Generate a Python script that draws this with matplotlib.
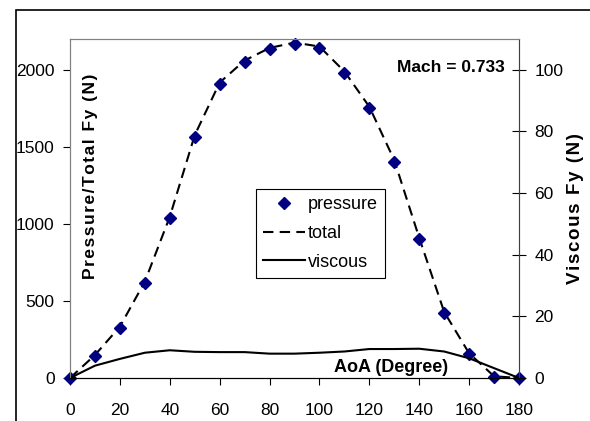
import matplotlib
matplotlib.use('Agg')
import matplotlib.pyplot as plt
from matplotlib.patches import Rectangle

plt.rcParams['font.family'] = ['Liberation Sans', 'DejaVu Sans']

aoa = [0, 10, 20, 30, 40, 50, 60, 70, 80, 90, 100, 110, 120, 130, 140, 150, 160, 170, 180]
pressure = [0, 145, 327, 617, 1037, 1567, 1909, 2052, 2134, 2169, 2143, 1981, 1751, 1404, 900, 420, 154, 8, 0]
viscous = [0, 4.0, 6.2, 8.2, 9.0, 8.5, 8.4, 8.4, 7.9, 7.9, 8.2, 8.6, 9.4, 9.4, 9.5, 8.6, 6.4, 3.2, 0]
total = [p + v for p, v in zip(pressure, viscous)]


def spaced(s):
    # the original axis titles have wide letter spacing
    return '\u200a'.join(s)


fig = plt.figure(figsize=(5.9, 4.21), dpi=100)

# outer chart frame (only left/top visible in the original)
fig.patches.append(Rectangle((16/590, -0.2), 1.2, 1 - 10/421 + 0.2, transform=fig.transFigure,
                             fill=False, edgecolor='black', linewidth=1.2, zorder=0))

ax = fig.add_axes([70/590, 1 - 378/421, 449/590, 339/421])
ax2 = ax.twinx()

l_tot, = ax.plot(aoa, total, color='black', linewidth=1.5, dashes=(5, 3), label='total')
l_pr, = ax.plot(aoa, pressure, linestyle='none', marker='D', markersize=6,
                color='#000080', label='pressure', clip_on=False, zorder=5)
l_vis, = ax2.plot(aoa, viscous, color='black', linewidth=1.5, label='viscous', clip_on=False)

ax.set_xlim(0, 180)
ax.set_ylim(0, 2200)
ax2.set_ylim(0, 110)
ax.set_xticks(range(0, 181, 20))
ax.set_yticks([0, 500, 1000, 1500, 2000])
ax2.set_yticks([0, 20, 40, 60, 80, 100])

for a in (ax, ax2):
    for s in ('top', 'left', 'right'):
        a.spines[s].set_color('#808080')
    a.spines['bottom'].set_color('black')
ax2.spines['right'].set_color('#404040')

ax.tick_params(axis='x', direction='out', length=5, pad=13, labelsize=12.5)
ax.tick_params(axis='y', direction='out', length=5, pad=6, labelsize=12.5)
ax2.tick_params(axis='y', direction='inout', length=10, pad=6, labelsize=12.5)

fig.text(90/590, 1 - 176/421, spaced('Pressure/Total Fy (N)'), rotation=90, fontsize=12.5,
         fontweight='bold', ha='center', va='center')
fig.text(575/590, 1 - 209/421, spaced('Viscous Fy (N)'), rotation=90, fontsize=13.5,
         fontweight='bold', ha='center', va='center')
fig.text(391/590, 1 - 368/421, 'AoA (Degree)', fontsize=13, fontweight='bold',
         ha='center', va='center')
fig.text(505/590, 1 - 68/421, 'Mach = 0.733', fontsize=12.5, fontweight='bold',
         ha='right', va='center')

leg = ax.legend(handles=[l_pr, l_tot, l_vis], loc='upper left',
                bbox_to_anchor=((256 - 70)/449, (378 - 189)/339), borderaxespad=0,
                fontsize=13, fancybox=False, framealpha=1, edgecolor='black',
                handlelength=2.3, handletextpad=0.15, labelspacing=0.65, borderpad=0.4)
leg.get_frame().set_linewidth(0.8)
leg.set_zorder(10)

fig.savefig('out.png', dpi=100)
